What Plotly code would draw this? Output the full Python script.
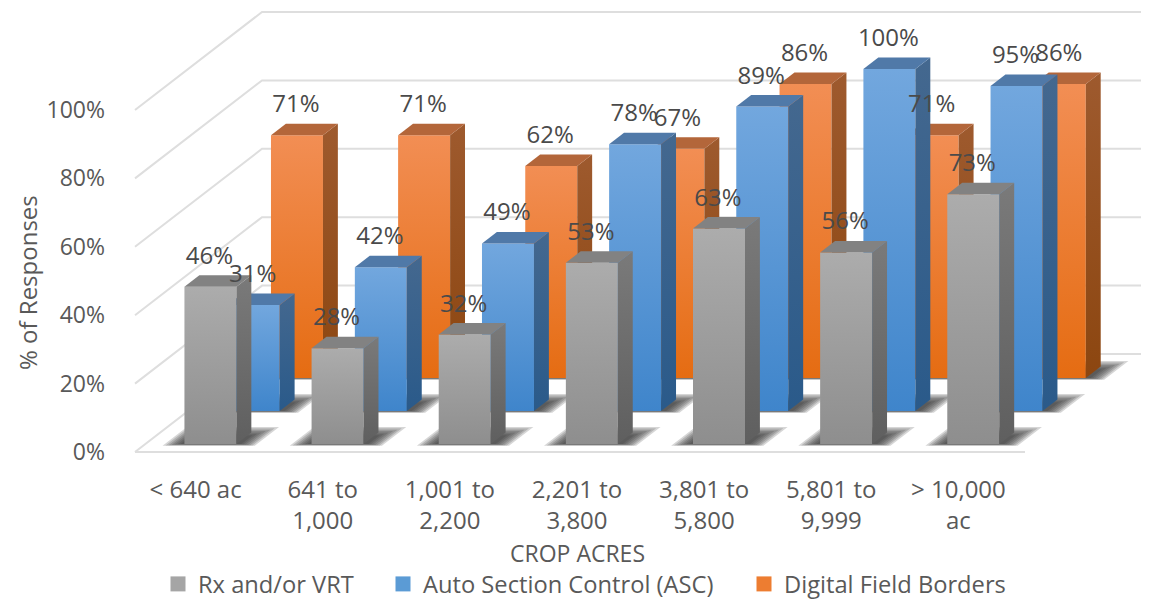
import plotly.graph_objects as go

line1 = ["< 640 ac", "641 to", "1,001 to", "2,201 to", "3,801 to", "5,801 to", "> 10,000"]
line2 = ["", "1,000", "2,200", "3,800", "5,800", "9,999", "ac"]
rx = [46, 28, 32, 53, 63, 56, 73]
asc = [31, 42, 49, 78, 89, 100, 95]
dfb = [71, 71, 62, 67, 86, 71, 86]
y_ticks = [0, 20, 40, 60, 80, 100]

PX = 127.14   # px per category
PY = 3.42     # px per percent
FONT = "Open Sans"
TXT = "#595959"
FS = 23

# oblique projection of the depth axis, in axis units
DEPTH_X = 127 / PX      # full floor depth
DEPTH_Y = 98 / PY
def proj(x, v, d):
    return x + d * DEPTH_X, v + d * DEPTH_Y

HALF = 26 / PX
SLOT_D = 33 / 98        # depth of one series slot
FRONT = 8 / 98          # front of the first series
BAR_D = 11.5 / 98       # bar depth
BAR_SHIFT = 1.5 / PX
SLOT_EXTRA = 0.5 / PX
SHADOW_D = 17 / 98

series = [
    dict(name="Digital Field Borders", vals=dfb, s=2, swatch="#ED7D31", leg="legend3",
         front=("#E56C12", "#F28E54"), side=("#8C4610", "#9E5A2E"), top="#B3663A"),
    dict(name="Auto Section Control (ASC)", vals=asc, s=1, swatch="#5B9BD5", leg="legend2",
         front=("#3F85CB", "#72A7DE"), side=("#2A5A8A", "#44688F"), top="#5079A8"),
    dict(name="Rx and/or VRT", vals=rx, s=0, swatch="#A5A5A5", leg="legend",
         front=("#8E8E8E", "#ACACAC"), side=("#5F5F5F", "#7A7A7A"), top="#828282"),
]

fig = go.Figure()

def poly(xs, ys, **kw):
    fig.add_trace(go.Scatter(x=xs, y=ys, mode="none", fill="toself", hoverinfo="skip",
                             showlegend=False, **kw))

# walls and floor
GRID = "#DEDEDE"
wx, wy = [], []
left, right = -0.5, 6.5
for t in y_ticks:
    a = proj(left, t, 0); b = proj(left, t, 1); c = proj(right, t, 1)
    wx += [a[0], b[0], c[0], None]
    wy += [a[1], b[1], c[1], None]
wx += [left, right]
wy += [0, 0]
fig.add_trace(go.Scatter(x=wx, y=wy, mode="lines", line=dict(color=GRID, width=2),
                         hoverinfo="skip", showlegend=False))

# floor shadows + bars, back to front
for sr in series:
    d0 = FRONT + sr["s"] * SLOT_D
    shift = BAR_SHIFT + sr["s"] * SLOT_EXTRA
    for i, v in enumerate(sr["vals"]):
        cx = i + shift
        # soft shadow: stacked translucent parallelograms on the floor
        for k in range(7):
            lo = cx - HALF - (4 + 2.6 * k) / PX
            hi = cx + HALF + (5 + 2.6 * k) / PX
            top_d = d0 + SHADOW_D - 0.014 * (6 - k)
            bot_d = d0 - 0.003 * k
            a, b = proj(lo, 0, bot_d), proj(hi, 0, bot_d)
            c, e = proj(hi, 0, top_d), proj(lo, 0, top_d)
            poly([a[0], b[0], c[0], e[0], a[0]], [a[1], b[1], c[1], e[1], a[1]],
                 fillcolor="rgba(50,50,50,0.2)")
    for i, v in enumerate(sr["vals"]):
        cx = i + shift
        l, r = cx - HALF, cx + HALF
        # front face
        p = [proj(l, 0, d0), proj(r, 0, d0), proj(r, v, d0), proj(l, v, d0), proj(l, 0, d0)]
        poly([q[0] for q in p], [q[1] for q in p],
             fillgradient=dict(type="vertical",
                               colorscale=[[0, sr["front"][0]], [1, sr["front"][1]]]))
        # side face
        e = d0 + BAR_D
        p = [proj(r, 0, d0), proj(r, 0, e), proj(r, v, e), proj(r, v, d0), proj(r, 0, d0)]
        poly([q[0] for q in p], [q[1] for q in p],
             fillgradient=dict(type="vertical",
                               colorscale=[[0, sr["side"][0]], [1, sr["side"][1]]]))
        # top face
        p = [proj(l, v, d0), proj(r, v, d0), proj(r, v, e), proj(l, v, e), proj(l, v, d0)]
        poly([q[0] for q in p], [q[1] for q in p], fillcolor=sr["top"])

# data labels
for sr in series:
    d0 = FRONT + sr["s"] * SLOT_D
    shift = BAR_SHIFT + sr["s"] * SLOT_EXTRA
    xs, ys, tx = [], [], []
    for i, v in enumerate(sr["vals"]):
        a = proj(i + shift, v, d0)
        xs.append(a[0] - 1 / PX)
        ys.append(a[1] + 29 / PY)
        tx.append(f"{v}%")
    fig.add_trace(go.Scatter(x=xs, y=ys, text=tx, mode="text", textposition="middle center",
                             textfont=dict(family=FONT, size=24, color="#4A4A4A"),
                             hoverinfo="skip", showlegend=False, cliponaxis=False))

# legend entries
for sr in reversed(series):
    fig.add_trace(go.Scatter(x=[None], y=[None], mode="markers", name=sr["name"],
                             legend=sr["leg"],
                             marker=dict(symbol="square", size=15, color=sr["swatch"])))
# carrier for the second line of the category labels
fig.add_trace(go.Scatter(x=[None], y=[None], xaxis="x2", mode="markers", showlegend=False))

# The page body has an 8 px margin, so figure coordinates are screen coordinates minus 8.
BODY = 8
FIG_W, FIG_H = 1149 - BODY, 600 - BODY
M_L = 130 - BODY
M_B = FIG_H - (460 - BODY)
PLOT_W, PLOT_H = FIG_W - M_L, FIG_H - M_B
xr = [(130 - 135) / PX - 0.5, (1149 - 135) / PX - 0.5]
yr = [-8 / PY, (452 - BODY) / PY]
tickpos = [i - 3 / PX for i in range(len(line1))]
def legend_at(fx):
    return dict(orientation="h", x=(fx - M_L) / PLOT_W, xref="paper", xanchor="left",
                y=-124 / PLOT_H, yref="paper", yanchor="middle",
                font=dict(family=FONT, size=23.7, color=TXT), itemwidth=30,
                bgcolor="rgba(0,0,0,0)")
fig.update_layout(
    width=FIG_W, height=FIG_H, autosize=False,
    margin=dict(l=M_L, r=0, t=0, b=M_B, autoexpand=False),
    paper_bgcolor="white", plot_bgcolor="white",
    font=dict(family=FONT, size=FS, color=TXT),
    showlegend=True,
    legend=legend_at(150),
    legend2=legend_at(375),
    legend3=legend_at(736),
    annotations=[
        dict(text="CROP ACRES", xref="paper", yref="paper", showarrow=False,
             x=(577 - 130) / PLOT_W, y=-(553 - 460) / PLOT_H, xanchor="center", yanchor="middle",
             font=dict(family=FONT, size=FS, color=TXT)),
        dict(text="% of Responses", xref="paper", yref="paper", showarrow=False, textangle=-90,
             x=(27 - 130) / PLOT_W, y=(460 - 283) / PLOT_H, xanchor="center", yanchor="middle",
             font=dict(family=FONT, size=24, color=TXT)),
    ],
    xaxis=dict(range=xr, tickmode="array", tickvals=tickpos, ticktext=line1,
               showgrid=False, zeroline=False, showline=False, ticks="", automargin=False,
               ticklabelstandoff=13, tickfont=dict(family=FONT, size=24, color=TXT)),
    xaxis2=dict(range=xr, overlaying="x", side="bottom", anchor="y", tickmode="array",
                tickvals=tickpos, ticktext=line2, showgrid=False, zeroline=False,
                showline=False, ticks="", ticklabelstandoff=44, automargin=False,
                tickfont=dict(family=FONT, size=24, color=TXT)),
    yaxis=dict(range=yr, tickmode="array", tickvals=y_ticks, automargin=False,
               ticktext=[f"{t}%" for t in y_ticks], showgrid=False, zeroline=False,
               showline=False, ticks="", ticklabelstandoff=24,
               tickfont=dict(family=FONT, size=FS, color=TXT)),
)
fig.write_html("out.html")
